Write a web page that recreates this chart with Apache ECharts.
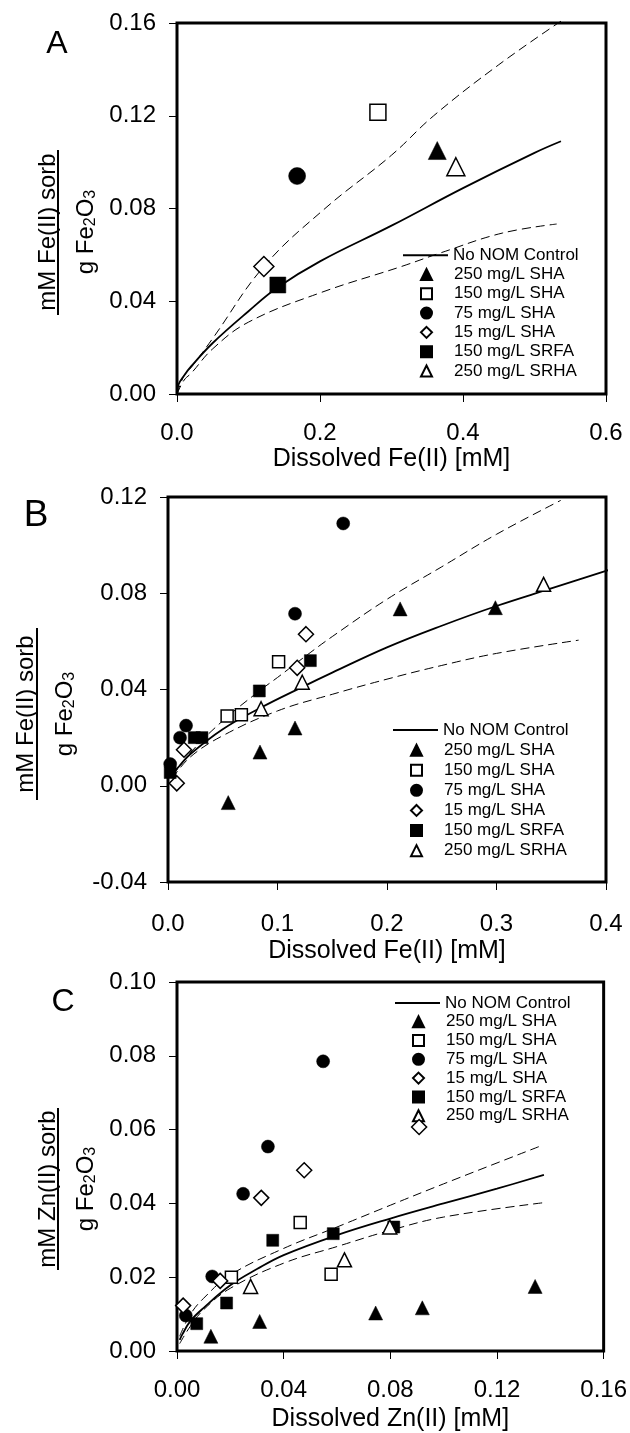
<!DOCTYPE html>
<html>
<head>
<meta charset="utf-8">
<script src="https://cdn.jsdelivr.net/npm/echarts@6/dist/echarts.min.js"></script>
<style>
  html, body { margin: 0; padding: 0; background: #fff; }
  #chart { width: 630px; height: 1433px; }
</style>
</head>
<body>
<div id="chart"></div>
<script>
var FONT = '"Liberation Sans", Arial, Helvetica, sans-serif';

// series names (legend order)
var names = ['No NOM Control', '250 mg/L SHA', '150 mg/L SHA', '75 mg/L SHA',
    '15 mg/L SHA', '150 mg/L SRFA', '250 mg/L SRHA'];

// ---- panel A : Fe(II) ----
var aXTicks = ['0.0', '0.2', '0.4', '0.6'];
var aYTicks = ['0.00', '0.04', '0.08', '0.12', '0.16'];
var aSha250 = [[0.364, 0.105]];
var aSha150 = [[0.281, 0.1215]];
var aSha75 = [[0.168, 0.094]];
var aSha15 = [[0.1215, 0.055]];
var aSrfa150 = [[0.141, 0.047]];
var aSrha250 = [[0.390, 0.098]];
var aControl = [[0, 0], [0.002, 0.004], [0.01, 0.008], [0.02, 0.012], [0.05, 0.022], [0.1, 0.0357],
    [0.141, 0.046], [0.2, 0.0572], [0.3, 0.0726], [0.4, 0.0888], [0.5, 0.104], [0.537, 0.109]];
var aUpper = [[0, 0], [0.01, 0.008], [0.02, 0.0115], [0.05, 0.024], [0.1215, 0.055], [0.207, 0.08],
    [0.3, 0.103], [0.359, 0.12], [0.45, 0.142], [0.538, 0.161]];
var aLower = [[0, 0], [0.01, 0.006], [0.02, 0.009], [0.05, 0.0195], [0.1, 0.031], [0.2, 0.0436],
    [0.314, 0.055], [0.37, 0.061], [0.455, 0.0694], [0.531, 0.0733]];

// ---- panel B : Fe(II) ----
var bXTicks = ['0.0', '0.1', '0.2', '0.3', '0.4'];
var bYTicks = ['-0.04', '0.00', '0.04', '0.08', '0.12'];
var bSha250 = [[0.055, -0.007], [0.084, 0.014], [0.116, 0.024], [0.212, 0.0735], [0.299, 0.074]];
var bSha150 = [[0.054, 0.029], [0.067, 0.0295], [0.101, 0.0515]];
var bSha75 = [[0.002, 0.009], [0.011, 0.020], [0.0165, 0.025], [0.116, 0.0715], [0.160, 0.109]];
var bSha15 = [[0.008, 0.001], [0.0146, 0.015], [0.118, 0.049], [0.126, 0.063]];
var bSrfa150 = [[0.002, 0.0055], [0.024, 0.020], [0.031, 0.020], [0.0834, 0.0394], [0.130, 0.052]];
var bSrha250 = [[0.085, 0.032], [0.1226, 0.043], [0.343, 0.0837]];
var bControl = [[0.004, 0.005], [0.01, 0.008], [0.02, 0.013], [0.05, 0.0235], [0.085, 0.0325],
    [0.1225, 0.041], [0.15, 0.047], [0.2, 0.0575], [0.25, 0.0665], [0.3, 0.0747], [0.35, 0.082],
    [0.4, 0.0893], [0.408, 0.0905]];
var bUpper = [[0.004, 0.004], [0.02, 0.0135], [0.05, 0.027], [0.0834, 0.0394], [0.1, 0.045],
    [0.126, 0.054], [0.15, 0.062], [0.2, 0.0775], [0.25, 0.091], [0.3, 0.1045], [0.3587, 0.1186]];
var bLower = [[0.004, 0.003], [0.02, 0.0118], [0.05, 0.0208], [0.1, 0.0311], [0.15, 0.038],
    [0.2, 0.0443], [0.25, 0.050], [0.3, 0.055], [0.375, 0.0605]];

// ---- panel C : Zn(II) ----
var cXTicks = ['0.00', '0.04', '0.08', '0.12', '0.16'];
var cYTicks = ['0.00', '0.02', '0.04', '0.06', '0.08', '0.10'];
var cSha250 = [[0.0127, 0.004], [0.031, 0.008], [0.0745, 0.0103], [0.092, 0.0117], [0.1343, 0.0175]];
var cSha150 = [[0.0204, 0.020], [0.0462, 0.0348], [0.0578, 0.0208]];
var cSha75 = [[0.0033, 0.0096], [0.0132, 0.0202], [0.0248, 0.0426], [0.0341, 0.0554], [0.0548, 0.0785]];
var cSha15 = [[0.0023, 0.0123], [0.0162, 0.019], [0.0316, 0.0415], [0.0477, 0.049], [0.0908, 0.0607]];
var cSrfa150 = [[0.0074, 0.0074], [0.0186, 0.013], [0.0359, 0.030], [0.0586, 0.0318], [0.0813, 0.0336]];
var cSrha250 = [[0.0276, 0.0175], [0.0628, 0.0247], [0.0798, 0.0336]];
var cControl = [[0.001, 0.003], [0.002, 0.0045], [0.005, 0.0081], [0.01, 0.0117], [0.02, 0.0178],
    [0.03, 0.0222], [0.04, 0.026], [0.06, 0.0314], [0.08, 0.0359], [0.1, 0.040], [0.12, 0.044], [0.1376, 0.0477]];
var cUpper = [[0.001, 0.004], [0.005, 0.0099], [0.01, 0.0143], [0.02, 0.0206], [0.04, 0.0278],
    [0.06, 0.0336], [0.08, 0.0395], [0.1, 0.0453], [0.1365, 0.0556]];
var cLower = [[0.001, 0.002], [0.005, 0.0067], [0.01, 0.0112], [0.02, 0.017], [0.04, 0.0238],
    [0.06, 0.0283], [0.08, 0.0327], [0.1, 0.0363], [0.1376, 0.0402]];

// marker look per sample type
var markers = [
    { symbol: 'triangle', fill: '#000', k: 1.08 },
    { symbol: 'rect', fill: '#fff', k: 0.95 },
    { symbol: 'circle', fill: '#000', k: 1.0 },
    { symbol: 'diamond', fill: '#fff', k: 1.15 },
    { symbol: 'rect', fill: '#000', k: 0.95 },
    { symbol: 'triangle', fill: '#fff', k: 1.08 }
];

var panels = [{
    grid: { left: 177, top: 23, width: 429, height: 371 },
    xTicks: aXTicks, yTicks: aYTicks, xName: 'Dissolved Fe(II) [mM]', labelMargin: 27, nameGap: 53,
    control: aControl, upper: aUpper, lower: aLower,
    points: [aSha250, aSha150, aSha75, aSha15, aSrfa150, aSrha250], size: 17,
    legend: { left: 403, top: 245.5, lh: 19.3 },
    letter: { text: 'A', x: 57, y: 44, size: 32 },
    yTitle: { top: 'mM Fe(II) sorb', x1: 48, ux: 58, x2: 85.5, y: 232, u1: 150, u2: 315 }
}, {
    grid: { left: 168, top: 497, width: 438, height: 385 },
    xTicks: bXTicks, yTicks: bYTicks, xName: 'Dissolved Fe(II) [mM]', labelMargin: 30, nameGap: 57,
    control: bControl, upper: bUpper, lower: bLower,
    points: [bSha250, bSha150, bSha75, bSha15, bSrfa150, bSrha250], size: 13,
    legend: { left: 393, top: 720, lh: 20.1 },
    letter: { text: 'B', x: 36, y: 516, size: 37 },
    yTitle: { top: 'mM Fe(II) sorb', x1: 26, ux: 37, x2: 64.5, y: 714, u1: 628, u2: 800 }
}, {
    grid: { left: 177, top: 982, width: 428, height: 371 },
    xTicks: cXTicks, yTicks: cYTicks, xName: 'Dissolved Zn(II) [mM]', labelMargin: 27, nameGap: 56,
    control: cControl, upper: cUpper, lower: cLower,
    points: [cSha250, cSha150, cSha75, cSha15, cSrfa150, cSrha250], size: 13,
    legend: { left: 395, top: 993.5, lh: 18.8 },
    letter: { text: 'C', x: 63, y: 1002, size: 32 },
    yTitle: { top: 'mM Zn(II) sorb', x1: 48, ux: 58, x2: 85.5, y: 1189, u1: 1108, u2: 1270 }
}];

function axisFromTicks(ticks) {
    var min = parseFloat(ticks[0]);
    var max = parseFloat(ticks[ticks.length - 1]);
    var interval = parseFloat(ticks[1]) - min;
    return {
        min: min, max: max, interval: interval,
        formatter: function (v) { return ticks[Math.round((v - min) / interval)]; }
    };
}

var option = {
    backgroundColor: '#fff',
    animation: false,
    grid: [], xAxis: [], yAxis: [], series: [], legend: [], graphic: []
};

panels.forEach(function (p, i) {
    var xa = axisFromTicks(p.xTicks);
    var ya = axisFromTicks(p.yTicks);
    option.grid.push(Object.assign({ show: true, borderColor: '#000', borderWidth: 3 }, p.grid));
    option.xAxis.push({
        gridIndex: i, type: 'value', min: xa.min, max: xa.max, interval: xa.interval,
        axisLine: { show: false, onZero: false },
        axisTick: { show: true, length: 8, lineStyle: { color: '#000', width: 1 } },
        axisLabel: { formatter: xa.formatter, fontSize: 24, color: '#000', fontFamily: FONT, margin: p.labelMargin },
        splitLine: { show: false },
        name: p.xName, nameLocation: 'middle', nameGap: p.nameGap,
        nameTextStyle: { fontSize: 25, color: '#000', fontFamily: FONT }
    });
    option.yAxis.push({
        gridIndex: i, type: 'value', min: ya.min, max: ya.max, interval: ya.interval,
        axisLine: { show: false, onZero: false },
        axisTick: { show: true, length: 8, lineStyle: { color: '#000', width: 1 } },
        axisLabel: { formatter: ya.formatter, fontSize: 24, color: '#000', fontFamily: FONT, margin: 21 },
        splitLine: { show: false }
    });

    // fitted curves
    option.series.push({
        name: names[0], type: 'line', xAxisIndex: i, yAxisIndex: i, data: p.control,
        symbol: 'none', smooth: 0.4, clip: false, z: 3,
        itemStyle: { color: '#000' },
        lineStyle: { color: '#000', width: 1.8 }
    });
    [p.upper, p.lower].forEach(function (d, j) {
        option.series.push({
            name: j ? 'lower bound' : 'upper bound', type: 'line', xAxisIndex: i, yAxisIndex: i, data: d,
            symbol: 'none', smooth: 0.4, clip: false, z: 3,
            itemStyle: { color: '#000' },
            lineStyle: { color: '#000', width: 1, type: [9, 5] }
        });
    });

    // measured points
    p.points.forEach(function (d, j) {
        var m = markers[j];
        option.series.push({
            name: names[j + 1], type: 'scatter', xAxisIndex: i, yAxisIndex: i, data: d,
            symbol: m.symbol, symbolSize: Math.round(p.size * m.k), clip: false, z: 5,
            itemStyle: { color: m.fill, borderColor: '#000', borderWidth: m.fill === '#fff' ? 1.5 : 0.5, opacity: 1 }
        });
    });

    // legend: one row for the control curve, then the sample symbols
    var lt = { fontSize: 17, color: '#000', fontFamily: FONT, lineHeight: p.legend.lh };
    option.legend.push({
        orient: 'vertical', left: p.legend.left, top: p.legend.top, padding: 0,
        itemWidth: 45, itemHeight: 2, itemGap: 0, selectedMode: false,
        itemStyle: { color: '#000' },
        textStyle: lt,
        data: [{ name: names[0], icon: 'rect' }]
    });
    option.legend.push({
        orient: 'vertical', left: p.legend.left + 17, top: p.legend.top + p.legend.lh, padding: 0,
        itemWidth: 11, itemHeight: 11, itemGap: 0, selectedMode: false,
        textStyle: Object.assign({ padding: [0, 0, 0, 17] }, lt),
        data: names.slice(1)
    });

    // panel letter
    option.graphic.push({
        type: 'text', x: p.letter.x, y: p.letter.y,
        style: { text: p.letter.text, font: p.letter.size + 'px ' + FONT, fill: '#000',
            textAlign: 'center', textVerticalAlign: 'middle', align: 'center', verticalAlign: 'middle' }
    });

    // y-axis title written as a fraction
    var t = p.yTitle;
    option.graphic.push({
        type: 'text', x: t.x1, y: t.y, rotation: Math.PI / 2,
        style: { text: t.top, font: '24px ' + FONT, fill: '#000',
            textAlign: 'center', textVerticalAlign: 'middle', align: 'center', verticalAlign: 'middle' }
    });
    option.graphic.push({
        type: 'line', shape: { x1: t.ux, y1: t.u1, x2: t.ux, y2: t.u2 },
        style: { stroke: '#000', lineWidth: 2 }
    });
    option.graphic.push({
        type: 'text', x: t.x2, y: t.y, rotation: Math.PI / 2,
        style: {
            text: '{n|g Fe}{s|2}{n|O}{s|3}', fill: '#000',
            textAlign: 'center', textVerticalAlign: 'middle', align: 'center', verticalAlign: 'middle',
            rich: {
                n: { fontSize: 24, fontFamily: FONT, fill: '#000', verticalAlign: 'bottom', lineHeight: 26 },
                s: { fontSize: 16, fontFamily: FONT, fill: '#000', verticalAlign: 'bottom', lineHeight: 26 }
            }
        }
    });
});

var chart = echarts.init(document.getElementById('chart'), null, { renderer: 'canvas' });
chart.setOption(option);
</script>
</body>
</html>
